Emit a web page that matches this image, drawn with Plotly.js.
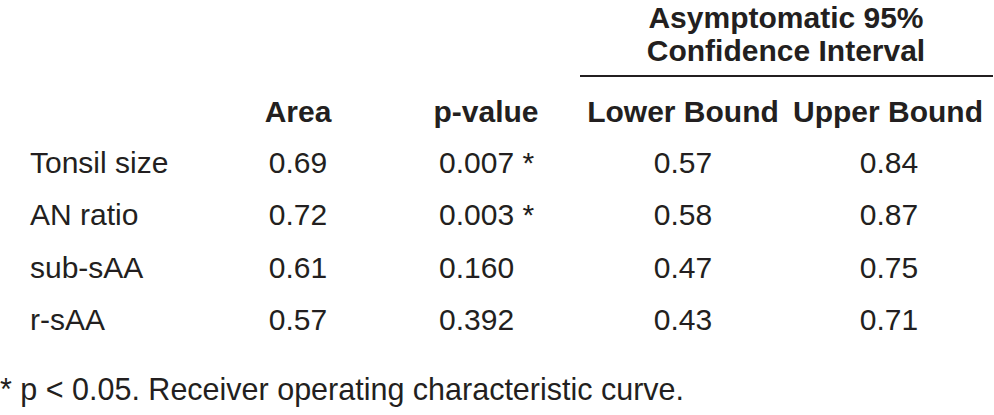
<!DOCTYPE html>
<html>
<head>
<meta charset="utf-8">
<script src="https://cdn.plot.ly/plotly-3.0.1.min.js"></script>
<style>
  html, body { margin: 0; padding: 0; background: #fff; }
  #plot { width: 994px; height: 415px; }
</style>
</head>
<body>
<div id="plot"></div>
<script>
// table values
const rowLabels = ['Tonsil size', 'AN ratio', 'sub-sAA', 'r-sAA']
const area = [0.69, 0.72, 0.61, 0.57]
const pValue = [0.007, 0.003, 0.160, 0.392]
const lowerBound = [0.57, 0.58, 0.47, 0.43]
const upperBound = [0.84, 0.87, 0.75, 0.71]
const columnHeaders = ['Area', 'p-value', 'Lower Bound', 'Upper Bound']
const groupHeader = ['Asymptomatic 95%', 'Confidence Interval']
const footnote = '* p &lt; 0.05. Receiver operating characteristic curve.'

// layout (pixel units on hidden axes)
const FONT = '"Liberation Sans", Arial, Helvetica, sans-serif'
const labelX = 30
const colX = [298, 439, 683, 889]
const headerX = [298, 486, 683, 888]
const headerY = 114
const rowY = [165, 217, 270, 322]
const groupX = 786
const groupY = [20, 53]

const fmt2 = v => v.toFixed(2)
const fmtP = v => v.toFixed(3) + (v < 0.05 ? ' *' : '')

const bodyX = [], bodyY = [], bodyText = [], bodyPos = []
rowLabels.forEach(function (label, i) {
  const cells = [fmt2(area[i]), fmtP(pValue[i]), fmt2(lowerBound[i]), fmt2(upperBound[i])]
  bodyX.push(labelX); bodyY.push(rowY[i]); bodyText.push(label); bodyPos.push('middle right')
  cells.forEach(function (c, j) {
    bodyX.push(colX[j]); bodyY.push(rowY[i]); bodyText.push(c)
    bodyPos.push(j === 1 ? 'middle right' : 'middle center')
  })
})

const body = {
  x: bodyX, y: bodyY, text: bodyText, textposition: bodyPos,
  mode: 'text', type: 'scatter', hoverinfo: 'skip',
  textfont: { family: FONT, size: 30, color: '#231f20' }
}

const header = {
  x: headerX.concat([groupX, groupX]),
  y: columnHeaders.map(() => headerY).concat(groupY),
  text: columnHeaders.concat(groupHeader),
  mode: 'text', type: 'scatter', hoverinfo: 'skip', textposition: 'middle center',
  textfont: { family: FONT, size: 30, color: '#231f20', weight: 'bold' }
}

const note = {
  x: [0], y: [392], text: [footnote], textposition: 'middle right',
  mode: 'text', type: 'scatter', hoverinfo: 'skip',
  textfont: { family: FONT, size: 30.5, color: '#231f20' }
}

const layout = {
  width: 994, height: 415,
  margin: { l: 0, r: 0, t: 0, b: 0 },
  paper_bgcolor: '#fff', plot_bgcolor: '#fff',
  showlegend: false,
  xaxis: { range: [0, 994], visible: false, fixedrange: true },
  yaxis: { range: [415, 0], visible: false, fixedrange: true },
  shapes: [{
    type: 'line', xref: 'x', yref: 'y', x0: 580, x1: 993, y0: 76, y1: 76,
    line: { color: '#231f20', width: 2 }
  }]
}

Plotly.newPlot('plot', [body, header, note], layout, { staticPlot: true, displayModeBar: false })
</script>
</body>
</html>
